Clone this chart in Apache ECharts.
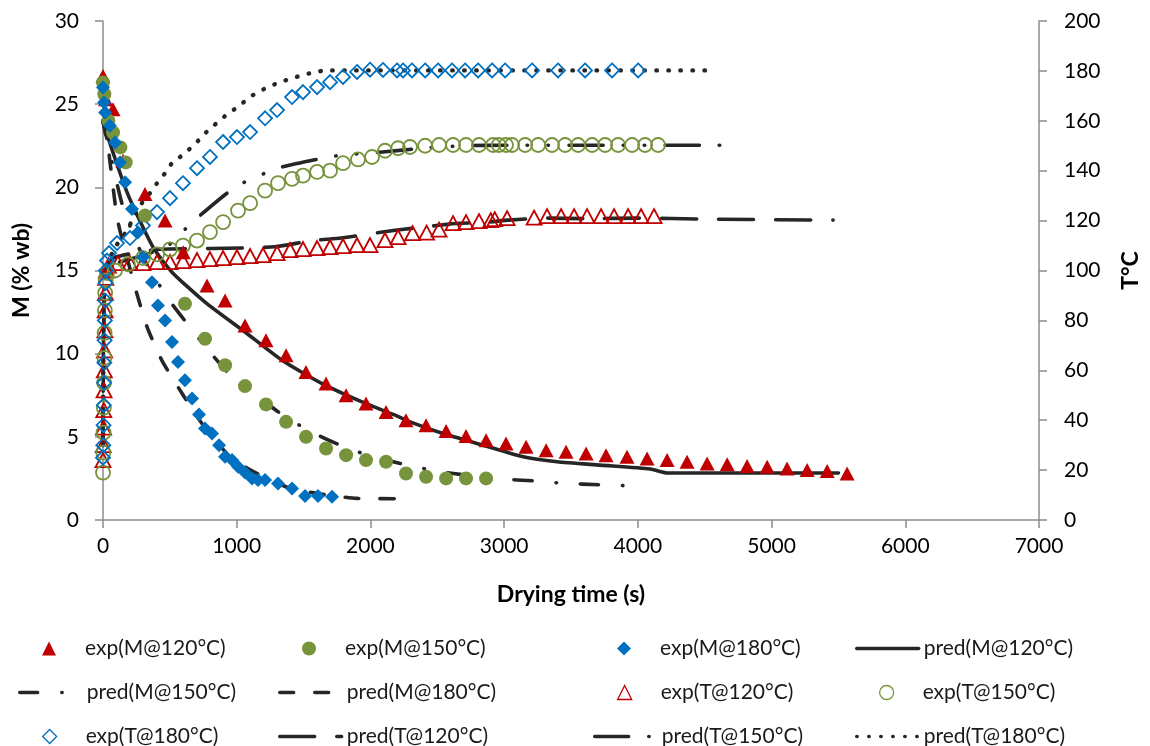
<!DOCTYPE html>
<html>
<head>
<meta charset="utf-8">
<script src="https://cdn.jsdelivr.net/npm/echarts@6/dist/echarts.min.js"></script>
<style>
html,body{margin:0;padding:0;background:#fff;}
#chart{width:1150px;height:746px;}
</style>
</head>
<body>
<div id="chart"></div>
<script>
// ---- data: [time (s), value] ----
const expM120 = [[0,26.7],[20,25.3],[75,24.7],[150,21.6],[314,19.6],[464,18.0],[600,16.1],[778,14.1],[913,13.2],[1062,11.7],[1219,10.8],[1369,9.9],[1518,8.9],[1668,8.2],[1818,7.5],[1967,7.0],[2117,6.5],[2266,6.0],[2416,5.7],[2566,5.35],[2715,5.05],[2865,4.8],[3014,4.6],[3164,4.4],[3314,4.2],[3463,4.1],[3613,4.0],[3762,3.9],[3919,3.8],[4069,3.7],[4219,3.6],[4368,3.5],[4518,3.4],[4668,3.35],[4817,3.25],[4967,3.2],[5116,3.1],[5266,3.0],[5416,2.95],[5565,2.8]];
const expM150 = [[0,26.3],[10,25.6],[40,24.0],[75,23.3],[130,22.4],[170,21.5],[314,18.3],[613,13.0],[763,10.9],[913,9.3],[1062,8.05],[1219,6.95],[1369,5.9],[1518,5.0],[1668,4.3],[1818,3.9],[1967,3.6],[2117,3.5],[2266,2.8],[2416,2.6],[2566,2.5],[2715,2.5],[2865,2.5]];
const expM180 = [[0,26.0],[8,25.1],[16,24.5],[52,23.7],[90,22.7],[127,21.5],[165,20.3],[217,18.7],[262,17.3],[299,15.8],[366,14.3],[411,12.9],[464,12.0],[516,10.7],[561,9.5],[613,8.4],[666,7.3],[718,6.35],[763,5.5],[815,5.2],[868,4.5],[913,3.8],[965,3.6],[1010,3.2],[1062,2.85],[1115,2.5],[1159,2.4],[1212,2.4],[1309,2.2],[1414,1.9],[1511,1.45],[1608,1.45],[1713,1.4]];
const predM120 = [[0,23.9],[180,19.7],[374,16.4],[516,14.9],[763,13.1],[1062,11.3],[1339,9.6],[1638,8.2],[1937,7.1],[2184,6.3],[2296,5.9],[2543,5.2],[2842,4.5],[3142,3.8],[3396,3.5],[3718,3.3],[4092,3.07],[4219,2.83],[5500,2.83]];
const predM150 = [[0,24.0],[60,21.8],[150,18.8],[300,15.8],[479,13.4],[620,11.9],[778,10.3],[960,8.65],[1137,7.6],[1310,6.5],[1533,5.4],[1760,4.55],[1997,3.85],[2250,3.35],[2483,2.95],[2730,2.68],[2970,2.47],[3220,2.35],[3463,2.2],[3710,2.12],[3957,2.05]];
const predM180 = [[0,24.0],[40,22.3],[110,18.0],[250,13.7],[330,11.6],[440,9.6],[600,7.5],[740,5.8],[950,3.8],[1150,2.8],[1400,1.9],[1600,1.6],[1900,1.3],[2244,1.28]];
const expT120 = [[0,24],[2,30],[4,37],[6,44],[8,52],[10,60],[12,68],[14,76],[16,84],[18,91],[21,97],[26,100],[40,102],[112,103],[202,103],[299,103],[404,103.4],[501,103.4],[598,103.8],[703,104.2],[800,104.6],[898,105],[1002,105.4],[1100,105.8],[1197,106.2],[1302,107],[1399,108.2],[1496,108.6],[1601,109],[1698,109.4],[1795,109.8],[1900,110.2],[1997,110.2],[2109,112.2],[2207,113.4],[2315,115],[2420,115.2],[2513,116.4],[2618,119],[2715,119.4],[2812,119.8],[2900,120.2],[2930,120.6],[3022,121],[3224,121.2],[3321,121.8],[3426,121.8],[3523,121.8],[3620,121.8],[3725,121.8],[3822,121.8],[3927,121.8],[4024,121.8],[4121,121.8]];
const expT150 = [[0,19],[2,27],[4,35],[6,45],[8,55],[10,65],[12,75],[14,84],[16,91],[20,96],[30,99],[90,100],[187,102.5],[299,105],[404,106.5],[501,108.5],[598,110],[703,112],[800,115.4],[898,119.4],[1010,124],[1100,127],[1212,132],[1309,135],[1414,136.7],[1496,138],[1601,139.5],[1698,140],[1795,143],[1907,144.5],[2012,145.5],[2109,148],[2207,149],[2296,149.5],[2409,150],[2513,150.3],[2618,150.3],[2715,150.3],[2812,150.3],[2917,150.3],[2960,150.3],[3014,150.3],[3059,150.3],[3157,150.3],[3254,150.3],[3358,150.3],[3456,150.3],[3553,150.3],[3658,150.3],[3755,150.3],[3852,150.3],[3957,150.3],[4054,150.3],[4151,150.3]];
const expT180 = [[0,25],[2,30],[4,38],[6,46],[8,55],[10,63],[12,72],[14,80],[16,88],[18,95],[22,100],[30,104],[45,107],[105,111],[202,113],[299,118],[404,123.4],[501,129],[598,135],[703,141],[800,145.5],[898,151.5],[1002,153.5],[1100,155.5],[1212,161],[1302,164.3],[1414,169.5],[1496,171.5],[1601,173.5],[1698,175.5],[1795,177.6],[1900,179.6],[1997,180.5],[2094,180.4],[2199,180.2],[2244,180.2],[2311,180.2],[2409,180.2],[2506,180.2],[2610,180.2],[2708,180.2],[2805,180.2],[2910,180.2],[3007,180.2],[3209,180.2],[3403,180.2],[3605,180.2],[3807,180.2],[4002,180.2]];
const predT120 = [[0,30],[15,100],[75,105],[425,108.5],[800,108.8],[1287,109.5],[1563,112],[1780,113],[2065,115.2],[2200,116.2],[2460,117.8],[2588,118.6],[2880,119.4],[3030,120.2],[3330,121],[3600,120.8],[4000,121],[4500,120.6],[5460,120.2]];
const predT150 = [[0,30],[15,100],[100,103],[300,106],[486,110],[613,116.5],[703,121],[928,131],[1062,135.5],[1212,139],[1340,141.5],[1640,145],[1790,146.3],[2090,147.5],[2390,149],[2700,150],[3000,150.2],[4640,150.2]];
const predT180 = [[0,30],[15,100],[100,110],[180,116],[262,125],[351,131],[404,135],[464,139],[516,143],[613,147],[673,150],[740,153.5],[800,157],[875,160],[935,163],[1010,165.5],[1085,169],[1160,171.5],[1234,173.5],[1324,175.5],[1414,177],[1496,178.4],[1578,179.4],[1668,180.2],[4540,180.2]];

const seriesNames = ['exp(M@120°C)','exp(M@150°C)','exp(M@180°C)','pred(M@120°C)',
  'pred(M@150°C)','pred(M@180°C)','exp(T@120°C)','exp(T@150°C)',
  'exp(T@180°C)','pred(T@120°C)','pred(T@150°C)','pred(T@180°C)'];

// ---- styling ----
const FONT = 'Lato';
const RED = '#C00000', GREEN = '#77933C', BLUE = '#0070C0', DARK = '#262626';
const AX = '#8C8C8C';
const NONE = 'rgba(255,255,255,0)';

function expFilled(name, data, symbol, size, color) {
  return { name, type: 'scatter', data, yAxisIndex: 0, symbol, symbolSize: size, clip: false, z: 4,
    itemStyle: { color, opacity: 1 } };
}
function expOpen(name, data, symbol, size, color) {
  return { name, type: 'scatter', data, yAxisIndex: 1, symbol, symbolSize: size, clip: false, z: 3,
    itemStyle: { color: NONE, borderColor: color, borderWidth: 1.8, opacity: 1 } };
}
function pred(name, data, axis, type, width) {
  return { name, type: 'line', data, yAxisIndex: axis, symbol: 'none', smooth: 0.2, z: 2,
    lineStyle: { color: DARK, width: width || 3.6, type, cap: 'round', join: 'round' },
    itemStyle: { color: NONE, borderWidth: 0 } };
}

const series = [
  expFilled(seriesNames[0], expM120, 'triangle', [15,14], RED),
  expFilled(seriesNames[1], expM150, 'circle', 14, GREEN),
  expFilled(seriesNames[2], expM180, 'diamond', 14, BLUE),
  pred(seriesNames[3], predM120, 0, 'solid'),
  pred(seriesNames[4], predM150, 0, [18, 24, 0.5, 24]),
  pred(seriesNames[5], predM180, 0, [14, 21]),
  expOpen(seriesNames[6], expT120, 'triangle', [15,14], RED),
  expOpen(seriesNames[7], expT150, 'circle', 14, GREEN),
  expOpen(seriesNames[8], expT180, 'diamond', 14, BLUE),
  pred(seriesNames[9], predT120, 1, [35, 22]),
  pred(seriesNames[10], predT150, 1, [34, 20, 0.5, 20.5, 0.5, 20.5]),
  pred(seriesNames[11], predT180, 1, [0.5, 11.5], 4.4)
];

const isLine = [false,false,false,true,true,true,false,false,false,true,true,true];
const isOpen = [false,false,false,false,false,false,true,true,true,false,false,false];
const legendSymbols = ['triangle','circle','diamond',null,null,null,'triangle','circle','diamond',null,null,null];
const colLeft = [18, 278, 593, 855];
const rowCenter = [645, 689, 733];
const legends = seriesNames.map((n, i) => {
  const base = {
    top: rowCenter[Math.floor(i / 4)] - 7,
    orient: 'horizontal',
    padding: 0,
    itemHeight: 14,
    itemGap: 0,
    selectedMode: false
  };
  if (isLine[i]) {
    base.left = colLeft[i % 4];
    base.itemWidth = 62;
    base.data = [n];
    base.lineStyle = { width: 3.4 };
    base.itemStyle = { color: NONE, borderWidth: 0, opacity: 0 };
    base.textStyle = { fontFamily: FONT, fontSize: 21, color: '#1a1a1a' };
  } else {
    base.left = colLeft[i % 4] + 24;
    base.itemWidth = 14;
    base.data = [{ name: n, icon: legendSymbols[i] }];
    base.itemStyle = { borderWidth: isOpen[i] ? 1.3 : 0 };
    base.textStyle = { fontFamily: FONT, fontSize: 21, color: '#1a1a1a', padding: [0, 0, 0, 24] };
  }
  return base;
});

const axisCommon = {
  type: 'value',
  axisLine: { show: true, lineStyle: { color: AX, width: 1.5 } },
  axisTick: { show: true, inside: false, length: 8, lineStyle: { color: AX, width: 1.5 } },
  splitLine: { show: false },
  axisLabel: { fontFamily: FONT, fontSize: 21, color: '#000', formatter: v => String(v) },
  nameTextStyle: { fontFamily: FONT, fontSize: 23, fontWeight: 'bold', color: '#000' },
  nameLocation: 'middle'
};

const option = {
  backgroundColor: '#fff',
  animation: false,
  textStyle: { fontFamily: FONT },
  grid: { left: 103, right: 110, top: 21, bottom: 226, containLabel: false },
  xAxis: Object.assign({}, axisCommon, {
    min: 0, max: 7000, interval: 1000,
    name: 'Drying time (s)', nameGap: 63,
    axisLabel: Object.assign({}, axisCommon.axisLabel, { margin: 16 })
  }),
  yAxis: [
    Object.assign({}, axisCommon, {
      position: 'left', min: 0, max: 30, interval: 5,
      name: 'M (% wb)', nameGap: 70, nameRotate: 90,
      axisLabel: Object.assign({}, axisCommon.axisLabel, { margin: 24 })
    }),
    Object.assign({}, axisCommon, {
      position: 'right', min: 0, max: 200, interval: 20,
      name: 'T°C', nameGap: 80, nameRotate: 90,
      axisLabel: Object.assign({}, axisCommon.axisLabel, { margin: 25 })
    })
  ],
  legend: legends,
  series
};

const chart = echarts.init(document.getElementById('chart'), null, { renderer: 'canvas' });
chart.setOption(option);
</script>
</body>
</html>
